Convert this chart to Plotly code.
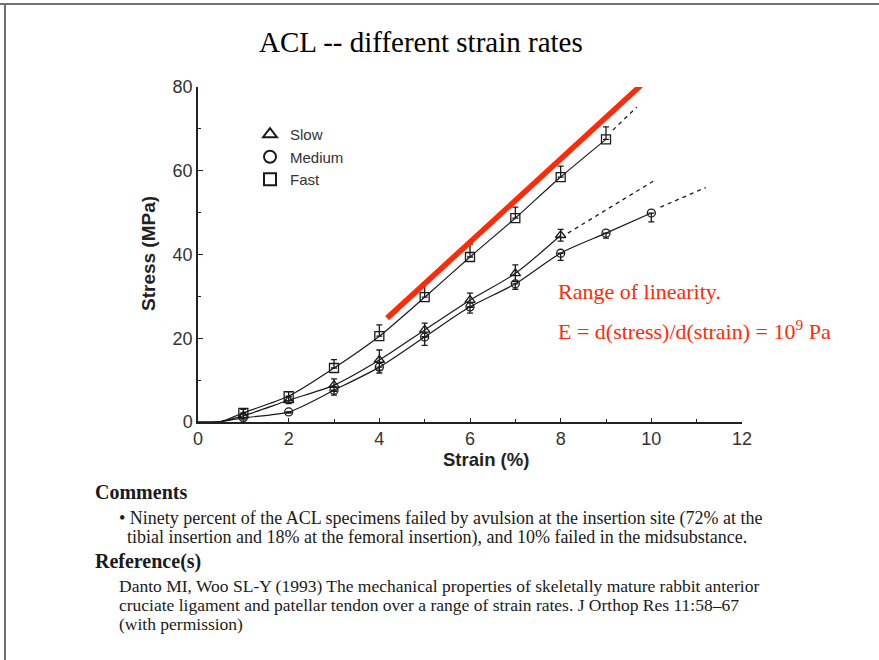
import plotly.graph_objects as go

# ---- data ----
fast_x = [1, 2, 3, 4, 5, 6, 7, 8, 9]
fast_y = [2.2, 6.2, 12.9, 20.5, 29.8, 39.4, 48.7, 58.5, 67.5]
fast_err = [0.8, 1.0, 2.0, 2.7, 3.3, 3.1, 2.6, 2.6, 3.0]

slow_x = [1, 2, 3, 4, 5, 6, 7, 8]
slow_y = [1.5, 5.2, 8.8, 14.8, 22.0, 29.1, 35.5, 44.6]
slow_err = [0.5, 0.8, 1.5, 2.4, 1.6, 1.7, 2.0, 1.4]

med_x = [1, 2, 3, 4, 5, 6, 7, 8, 9, 10]
med_y = [1.0, 2.4, 7.6, 13.1, 20.3, 27.5, 33.0, 40.3, 45.1, 49.9]
med_err = [0.5, 0.3, 1.2, 1.4, 2.0, 1.5, 1.3, 1.7, 1.2, 2.1]

# dashed extrapolations
fast_ext_x = [9.15, 9.68]
fast_ext_y = [69.7, 75.2]
slow_ext_x = [8.16, 10.04]
slow_ext_y = [45.1, 57.5]
med_ext_x = [10.2, 11.2]
med_ext_y = [51.3, 56.0]

# red linear-range line
lin_x = [4.17, 9.77]
lin_y = [24.8, 80.4]

x_ticks = [0, 2, 4, 6, 8, 10, 12]
y_ticks = [0, 20, 40, 60, 80]

# ---- layout geometry ----
W, H = 879, 660
L, R, T, B = 198, 137, 87, 238
PW, PH = W - L - R, H - T - B


def px(x):
    return (x - L) / PW


def py(y):
    return (H - B - y) / PH


fig = go.Figure()

sans = "Liberation Sans, Arial, sans-serif"
serif = "Liberation Serif, Times New Roman, serif"
INK = "#1a1a1a"

series = [
    ("Slow", slow_x, slow_y, "triangle-up-open", 9, dict(type="data", array=slow_err, arrayminus=slow_err)),
    ("Medium", med_x, med_y, "circle-open", 8, dict(type="data", array=[0] * len(med_err), arrayminus=med_err)),
    ("Fast", fast_x, fast_y, "square-open", 9, dict(type="data", array=fast_err, arrayminus=[0] * len(fast_err))),
]

for name, xs, ys, sym, size, ey in series:
    fig.add_trace(go.Scatter(
        x=[0, 0.5] + xs, y=[0, 0.1] + ys, mode="lines",
        line=dict(color=INK, width=1.2, shape="spline", smoothing=0.8),
        showlegend=False, hoverinfo="skip"))
    fig.add_trace(go.Scatter(
        x=xs, y=ys, mode="markers",
        marker=dict(symbol=sym, size=size, color=INK, line=dict(width=1.3, color=INK)),
        error_y=dict(**ey, color=INK, thickness=1.3, width=3),
        showlegend=False, cliponaxis=False))

for ex, ey_ in [(fast_ext_x, fast_ext_y), (slow_ext_x, slow_ext_y), (med_ext_x, med_ext_y)]:
    fig.add_trace(go.Scatter(x=ex, y=ey_, mode="lines",
                             line=dict(color=INK, width=1.3, dash="4px,4px"),
                             showlegend=False, hoverinfo="skip"))

# legend-only marker traces
for name, xs, ys, sym, size, ey in series:
    fig.add_trace(go.Scatter(x=[None], y=[None], mode="markers", name=name,
                             marker=dict(symbol=sym, size=6, color=INK,
                                         line=dict(width=1.2, color=INK))))

fig.add_trace(go.Scatter(x=lin_x, y=lin_y, mode="lines",
                         line=dict(color="#ff2a06", width=5.5),
                         showlegend=False, hoverinfo="skip"))

fig.update_xaxes(range=[0, 12], tickvals=x_ticks, ticks="inside", ticklen=4,
                 tickcolor="#222", showline=True, linecolor="#222", linewidth=1.5,
                 showgrid=False, zeroline=False,
                 minor=dict(tickvals=[1, 3, 5, 7, 9, 11], ticks="inside", ticklen=3, tickcolor="#222"),
                 tickfont=dict(family=sans, size=18, color="#333"))
fig.update_yaxes(range=[0, 80], tickvals=y_ticks, ticks="inside", ticklen=5,
                 tickcolor="#222", showline=True, linecolor="#222", linewidth=1.5,
                 showgrid=False, zeroline=False,
                 minor=dict(tickvals=[10, 30, 50, 70], ticks="inside", ticklen=3, tickcolor="#222"),
                 tickfont=dict(family=sans, size=18, color="#333"))

ann = []
ann.append(dict(x=px(421), y=py(42), text="ACL -- different strain rates",
                font=dict(family=serif, size=29, color="#000")))
ann.append(dict(x=px(148), y=py(254), text="<b>Stress (MPa)</b>", textangle=-90,
                font=dict(family=sans, size=19, color="#222")))
ann.append(dict(x=px(486), y=py(459), text="<b>Strain (%)</b>",
                font=dict(family=sans, size=18.5, color="#222")))
ann.append(dict(x=px(556), y=py(291), text="Range of linearity.", xanchor="left",
                font=dict(family=serif, size=22, color="#ff2a06")))
ann.append(dict(x=px(556), y=py(330), text="E = d(stress)/d(strain) = 10<sup>9</sup> Pa", xanchor="left",
                font=dict(family=serif, size=22, color="#ff2a06")))

text_lines = [
    (93, 492, "<b>Comments</b>", 20),
    (117, 518, "• Ninety percent of the ACL specimens failed by avulsion at the insertion site (72% at the", 18),
    (125, 537, "tibial insertion and 18% at the femoral insertion), and 10% failed in the midsubstance.", 18),
    (93, 561, "<b>Reference(s)</b>", 20),
    (117, 586, "Danto MI, Woo SL-Y (1993) The mechanical properties of skeletally mature rabbit anterior", 17.5),
    (117, 605, "cruciate ligament and patellar tendon over a range of strain rates. J Orthop Res 11:58–67", 17.5),
    (117, 624, "(with permission)", 17.5),
]
for x0, y0, t, s in text_lines:
    ann.append(dict(x=px(x0), y=py(y0), text=t, xanchor="left",
                    font=dict(family=serif, size=s, color=INK)))

for a in ann:
    a.update(xref="paper", yref="paper", showarrow=False)
    a.setdefault("xanchor", "center")
    a.setdefault("yanchor", "middle")

shapes = [
    dict(type="line", xref="paper", yref="paper", x0=px(0), x1=px(W), y0=py(4), y1=py(4),
         line=dict(color="#707070", width=2)),
    dict(type="line", xref="paper", yref="paper", x0=px(5), x1=px(5), y0=py(4), y1=py(H),
         line=dict(color="#707070", width=2)),
]

fig.update_layout(
    width=W, height=H, margin=dict(l=L, r=R, t=T, b=B),
    paper_bgcolor="white", plot_bgcolor="white",
    annotations=ann, shapes=shapes,
    legend=dict(x=px(250), y=py(118), xanchor="left", yanchor="top",
                bgcolor="rgba(0,0,0,0)", font=dict(family=sans, size=15, color="#333"),
                tracegroupgap=0, itemsizing="constant"),
)

fig.write_html("out.html")
